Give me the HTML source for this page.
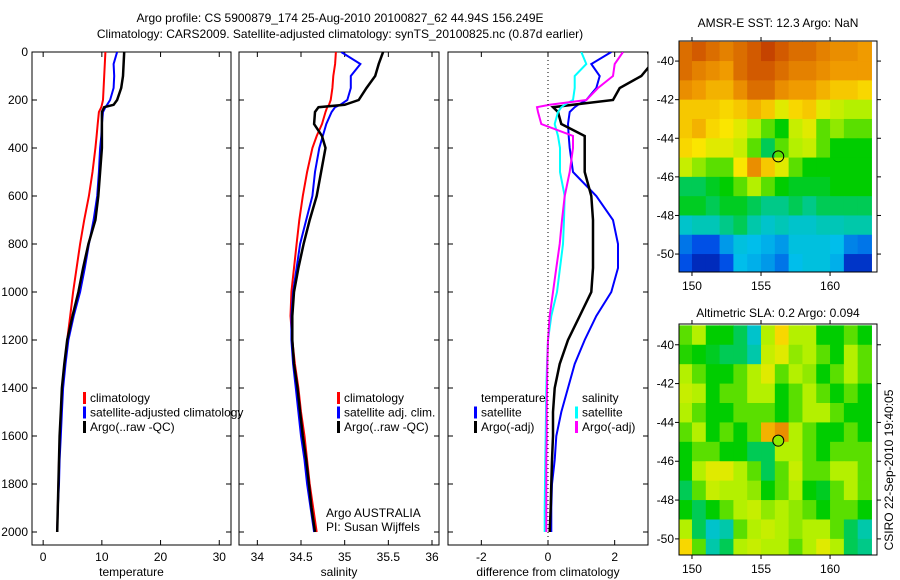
<!DOCTYPE html>
<html><head><meta charset="utf-8"><style>
body{margin:0;background:#fff;}
svg{display:block;font-family:"Liberation Sans",sans-serif;}
text{font-size:12px;fill:#000;}
</style></head><body>
<svg id="s" width="900" height="580" viewBox="0 0 900 580">
<text x="340" y="22" text-anchor="middle">Argo profile: CS 5900879_174 25-Aug-2010 20100827_62 44.94S 156.249E</text>
<text x="340" y="38" text-anchor="middle">Climatology: CARS2009. Satellite-adjusted climatology: synTS_20100825.nc (0.87d earlier)</text>
<text x="778" y="27" text-anchor="middle">AMSR-E SST: 12.3 Argo: NaN</text>
<text x="778" y="317" text-anchor="middle">Altimetric SLA: 0.2 Argo: 0.094</text>
<text transform="translate(893,470) rotate(-90)" text-anchor="middle">CSIRO 22-Sep-2010 19:40:05</text>
<text x="326" y="517">Argo AUSTRALIA</text>
<text x="326" y="531">PI: Susan Wijffels</text>
</svg>
<script>
const depths=[0,50,100,150,200,220,230,250,300,350,400,500,600,700,800,900,1000,1100,1200,1300,1400,1500,1600,1700,1800,1900,2000];
const tempClim=[10.6,10.5,10.4,10.3,10.2,10.0,9.9,9.5,9.3,9.1,8.9,8.4,7.8,7.0,6.3,5.7,5.1,4.6,4.1,3.7,3.3,3.1,2.9,2.7,2.6,2.5,2.4];
const tempSat=[12.6,12.0,12.1,12.0,11.4,10.9,10.6,10.2,10.0,9.9,9.7,9.5,9.2,8.6,7.8,7.1,6.3,5.2,4.3,3.8,3.4,3.2,3.0,2.8,2.7,2.5,2.4];
const tempArgo=[13.8,13.7,13.6,13.3,12.6,12.0,10.4,10.0,10.0,10.0,10.0,9.7,9.4,8.9,7.7,6.8,6.0,5.0,4.1,3.6,3.2,3.0,2.8,2.7,2.6,2.5,2.4];
const salClim=[34.90,34.89,34.87,34.86,34.84,34.82,34.80,34.78,34.74,34.68,34.63,34.57,34.52,34.48,34.45,34.42,34.39,34.38,34.40,34.43,34.47,34.50,34.54,34.57,34.60,34.64,34.68];
const salSat=[34.96,35.18,35.07,35.07,35.03,34.95,34.89,34.85,34.79,34.75,34.71,34.66,34.63,34.56,34.49,34.45,34.41,34.39,34.39,34.41,34.44,34.47,34.50,34.54,34.57,34.61,34.65];
const salArgo=[35.44,35.39,35.35,35.25,35.16,35.00,34.70,34.66,34.65,34.74,34.78,34.73,34.68,34.60,34.53,34.47,34.42,34.40,34.40,34.42,34.46,34.49,34.52,34.56,34.59,34.62,34.66];
const diffTempSat=[1.9,1.3,1.55,1.45,1.15,0.9,0.8,0.65,0.6,0.62,0.65,0.75,1.45,1.95,2.1,2.1,1.9,1.45,1.1,0.8,0.6,0.4,0.25,0.2,0.12,0.1,0.1];
const diffTempArgo=[3.0,3.1,2.8,2.15,1.95,0.75,0.15,0.3,0.4,1.1,1.1,1.1,1.3,1.35,1.35,1.35,1.3,0.95,0.6,0.35,0.2,0.15,0.15,0.12,0.1,0.08,0.05];
const diffSalSat=[1.0,1.15,0.8,0.8,0.75,0.5,0.4,0.3,0.2,0.3,0.36,0.36,0.5,0.48,0.45,0.36,0.27,0.1,0.0,-0.03,-0.05,-0.06,-0.07,-0.08,-0.09,-0.1,-0.1];
const diffSalArgo=[2.25,2.0,1.95,1.5,1.15,0.05,-0.33,-0.3,-0.2,0.75,0.75,0.65,0.5,0.42,0.35,0.25,0.15,0.05,0.0,-0.02,-0.03,-0.04,-0.04,-0.05,-0.05,-0.05,-0.05];
const tempTicks=[0,10,20,30];
const salTicks=[34,34.5,35,35.5,36];
const diffTicks=[-2,0,2];
const depthTicks=[0,200,400,600,800,1000,1200,1400,1600,1800,2000];
const lonTicks=[150,155,160];
const latTicks=[-40,-42,-44,-46,-48,-50];
const sstGrid=[
[0.85,0.88,0.85,0.82,0.85,0.88,0.92,0.88,0.85,0.85,0.82,0.8,0.8,0.78],
[0.85,0.82,0.8,0.78,0.85,0.88,0.88,0.85,0.82,0.82,0.8,0.78,0.78,0.78],
[0.8,0.78,0.75,0.75,0.8,0.85,0.85,0.8,0.78,0.78,0.75,0.72,0.72,0.7],
[0.72,0.72,0.72,0.7,0.72,0.75,0.72,0.65,0.7,0.72,0.65,0.62,0.6,0.6],
[0.72,0.75,0.7,0.68,0.65,0.6,0.55,0.5,0.62,0.65,0.55,0.58,0.55,0.55],
[0.7,0.68,0.65,0.65,0.62,0.55,0.45,0.55,0.6,0.62,0.55,0.5,0.5,0.5],
[0.62,0.58,0.55,0.55,0.68,0.8,0.72,0.65,0.55,0.5,0.5,0.5,0.5,0.5],
[0.45,0.45,0.48,0.5,0.55,0.6,0.55,0.5,0.48,0.48,0.48,0.5,0.5,0.5],
[0.48,0.48,0.45,0.48,0.48,0.45,0.42,0.42,0.45,0.42,0.45,0.45,0.45,0.45],
[0.35,0.38,0.38,0.42,0.45,0.4,0.35,0.38,0.35,0.35,0.38,0.38,0.4,0.4],
[0.2,0.15,0.15,0.25,0.32,0.3,0.28,0.25,0.32,0.32,0.32,0.3,0.22,0.2],
[0.15,0.08,0.08,0.15,0.3,0.28,0.25,0.2,0.3,0.32,0.32,0.28,0.1,0.1]];
const slaGrid=[
[0.55,0.6,0.5,0.5,0.45,0.35,0.6,0.7,0.6,0.6,0.5,0.5,0.55,0.5],
[0.52,0.5,0.48,0.45,0.45,0.4,0.62,0.65,0.58,0.6,0.55,0.5,0.6,0.55],
[0.6,0.55,0.5,0.5,0.55,0.6,0.65,0.55,0.6,0.58,0.5,0.55,0.6,0.55],
[0.62,0.6,0.5,0.55,0.55,0.6,0.6,0.5,0.55,0.6,0.55,0.5,0.55,0.5],
[0.6,0.55,0.5,0.5,0.55,0.55,0.55,0.5,0.55,0.6,0.6,0.55,0.5,0.5],
[0.55,0.6,0.5,0.55,0.5,0.55,0.75,0.8,0.6,0.55,0.5,0.5,0.55,0.5],
[0.5,0.55,0.55,0.5,0.5,0.45,0.45,0.6,0.6,0.55,0.5,0.55,0.55,0.55],
[0.5,0.6,0.65,0.65,0.6,0.55,0.45,0.55,0.62,0.55,0.55,0.6,0.6,0.55],
[0.45,0.55,0.62,0.6,0.6,0.58,0.5,0.55,0.6,0.5,0.48,0.55,0.6,0.55],
[0.5,0.45,0.5,0.55,0.6,0.62,0.58,0.6,0.58,0.55,0.5,0.55,0.55,0.5],
[0.6,0.45,0.35,0.4,0.55,0.6,0.62,0.6,0.58,0.6,0.6,0.55,0.45,0.4],
[0.7,0.55,0.4,0.45,0.6,0.62,0.6,0.6,0.55,0.6,0.65,0.6,0.45,0.42]];
const gridLon0=149, gridLat0=-39;
const argoLon=156.249, argoLat=-44.94;
const slaArgoVal=0.58;

const S=document.getElementById('s'), NS='http://www.w3.org/2000/svg';
function mk(tag,attrs,txt){const e=document.createElementNS(NS,tag);for(const k in attrs)e.setAttribute(k,attrs[k]);if(txt!==undefined)e.textContent=txt;S.appendChild(e);return e;}
const cmapStops=[[0,0,0,140],[0.15,0,80,230],[0.3,0,190,235],[0.4,0,200,170],[0.5,0,205,0],[0.6,180,240,0],[0.68,250,230,0],[0.78,240,155,0],[0.88,210,90,0],[1,170,20,0]];
function jet(v){v=Math.max(0,Math.min(1,v));
  for(let i=1;i<cmapStops.length;i++){const a=cmapStops[i-1],b=cmapStops[i];
    if(v<=b[0]){const t=(v-a[0])/(b[0]-a[0]);return `rgb(${Math.round(a[1]+t*(b[1]-a[1]))},${Math.round(a[2]+t*(b[2]-a[2]))},${Math.round(a[3]+t*(b[3]-a[3]))})`;}}
  return 'rgb(170,20,0)';}
const yTop=52,yBot=545;
const yD=d=>52+d*0.24;
function profPanel(name,x0,x1,vmin,vmax,ticks,label,series,showY){
  const sx=v=>x0+(v-vmin)/(vmax-vmin)*(x1-x0);
  const f=mk('rect',{x:x0,y:yTop,width:x1-x0,height:yBot-yTop,fill:'none',stroke:'#000','stroke-width':1});
  
  
  ticks.forEach(t=>{const x=sx(t);
    mk('line',{x1:x,y1:yBot,x2:x,y2:yBot-5,stroke:'#000'});mk('line',{x1:x,y1:yTop,x2:x,y2:yTop+5,stroke:'#000'});
    const tl=mk('text',{x:x,y:yBot+16,'text-anchor':'middle'},String(t));
    
    });
  depthTicks.forEach(d=>{const y=yD(d);
    mk('line',{x1:x0,y1:y,x2:x0+5,y2:y,stroke:'#000'});mk('line',{x1:x1,y1:y,x2:x1-5,y2:y,stroke:'#000'});
    if(showY){const tl=mk('text',{x:x0-4,y:y+4,'text-anchor':'end'},String(d));
      
      }});
  const al=mk('text',{x:(x0+x1)/2,y:576,'text-anchor':'middle'},label);
  
  
  series.forEach(s=>{
    const pts=s.v.map((v,i)=>sx(v).toFixed(1)+','+yD(depths[i]).toFixed(1)).join(' ');
    const p=mk('polyline',{points:pts,fill:'none',stroke:s.c,'stroke-width':s.w||2,'clip-path':'url(#c'+name+')'});
    
    });
  const cp=document.createElementNS(NS,'clipPath');cp.setAttribute('id','c'+name);
  const r=document.createElementNS(NS,'rect');r.setAttribute('x',x0);r.setAttribute('y',yTop);r.setAttribute('width',x1-x0);r.setAttribute('height',yBot-yTop);cp.appendChild(r);S.appendChild(cp);
  return sx;
}
function legend(x,y,items,name){items.forEach((it,i)=>{
  if(it.c){const b=mk('rect',{x:x-7,y:y+i*14.5-10,width:3,height:12,fill:it.c});}
  const t=mk('text',{x:x,y:y+i*14.5},it.t);});}

profPanel('temperature-panel',32,231,-1.9,32,tempTicks,'temperature',[
 {v:tempClim,c:'#f00',n:'temp-climatology-line'},{v:tempSat,c:'#00f',n:'temp-satellite-line'},{v:tempArgo,c:'#000',n:'temp-argo-line',w:2.5}],true);
legend(90,402,[{t:'climatology',c:'#f00'},{t:'satellite-adjusted climatology',c:'#00f'},{t:'Argo(..raw -QC)',c:'#000'}],'temp-legend');
profPanel('salinity-panel',239,439,33.79,36.08,salTicks,'salinity',[
 {v:salClim,c:'#f00',n:'sal-climatology-line'},{v:salSat,c:'#00f',n:'sal-satellite-line'},{v:salArgo,c:'#000',n:'sal-argo-line',w:2.5}],false);
legend(344,402,[{t:'climatology',c:'#f00'},{t:'satellite adj. clim.',c:'#00f'},{t:'Argo(..raw -QC)',c:'#000'}],'sal-legend');
const sxD=profPanel('difference-panel',448,648,-3,3,diffTicks,'difference from climatology',[
 {v:diffTempSat,c:'#00f',n:'diff-temp-satellite-line'},{v:diffTempArgo,c:'#000',n:'diff-temp-argo-line',w:2.5},
 {v:diffSalSat,c:'#0ff',n:'diff-sal-satellite-line'},{v:diffSalArgo,c:'#f0f',n:'diff-sal-argo-line'}],false);
const zl=mk('line',{x1:sxD(0),y1:yTop,x2:sxD(0),y2:yBot,stroke:'#000','stroke-dasharray':'1,3'});


legend(481,402,[{t:'temperature'},{t:'satellite',c:'#00f'},{t:'Argo(-adj)',c:'#000'}],'diff-temp-legend');
legend(582,402,[{t:'salinity'},{t:'satellite',c:'#0ff'},{t:'Argo(-adj)',c:'#f0f'}],'diff-sal-legend');

function mapPanel(name,grid,x0,x1,y0,y1,latTop,latBot,filled){
  const lonL=149.06,lonR=163.4;
  const sx=l=>x0+(l-lonL)/(lonR-lonL)*(x1-x0), sy=l=>y0+(latTop-l)/(latTop-latBot)*(y1-y0);
  const cpId='cm'+name;const cp=document.createElementNS(NS,'clipPath');cp.setAttribute('id',cpId);
  const r=document.createElementNS(NS,'rect');r.setAttribute('x',x0);r.setAttribute('y',y0);r.setAttribute('width',x1-x0);r.setAttribute('height',y1-y0);cp.appendChild(r);S.appendChild(cp);
  const g=mk('g',{'clip-path':'url(#'+cpId+')'});
  
  
  grid.forEach((row,j)=>row.forEach((v,i)=>{
    const xa=sx(gridLon0+i),xb=sx(gridLon0+i+1),ya=sy(gridLat0-j),yb=sy(gridLat0-j-1);
    const c=document.createElementNS(NS,'rect');
    c.setAttribute('x',xa);c.setAttribute('y',ya);c.setAttribute('width',xb-xa+0.5);c.setAttribute('height',yb-ya+0.5);c.setAttribute('fill',jet(v));
    
    
    g.appendChild(c);}));
  const f=mk('rect',{x:x0,y:y0,width:x1-x0,height:y1-y0,fill:'none',stroke:'#000'});
  
  
  lonTicks.forEach(l=>{const x=sx(l);mk('line',{x1:x,y1:y0,x2:x,y2:y0-4,stroke:'#000'});mk('line',{x1:x,y1:y1,x2:x,y2:y1+4,stroke:'#000'});
    const t=mk('text',{x:x,y:y1+18,'text-anchor':'middle'},String(l));});
  latTicks.forEach(l=>{const y=sy(l);mk('line',{x1:x0,y1:y,x2:x0-4,y2:y,stroke:'#000'});mk('line',{x1:x1,y1:y,x2:x1+4,y2:y,stroke:'#000'});
    const t=mk('text',{x:x0-5,y:y+4,'text-anchor':'end'},String(l));});
  const m=mk('circle',{cx:sx(argoLon),cy:sy(argoLat),r:5.5,fill:filled?jet(slaArgoVal):'none',stroke:'#000','stroke-width':1});
  
  
}
mapPanel('sst-map',sstGrid,679,877,41,272,-38.96,-50.93,false);
mapPanel('sla-map',slaGrid,679,877,324,555,-38.93,-50.83,true);
</script>
</body></html>
